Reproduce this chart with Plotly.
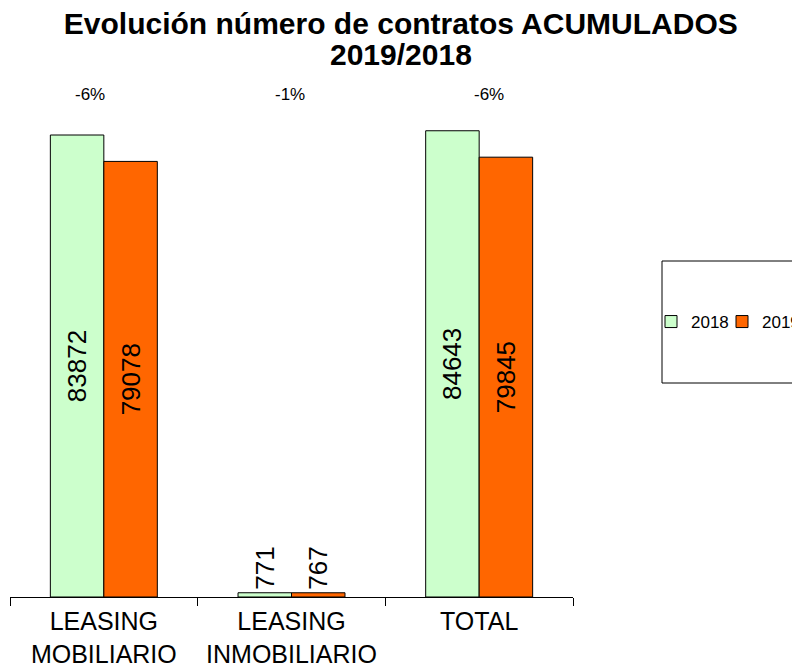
import plotly.graph_objects as go

categories = ["LEASING<br>MOBILIARIO", "LEASING<br>INMOBILIARIO", "TOTAL"]
values_2018 = [83872, 771, 84643]
values_2019 = [79078, 767, 79845]
pct_labels = ["-6%", "-1%", "-6%"]
pct_xshift = [-14, -2, 10]
title_lines = ["Evolución número de contratos ACUMULADOS", "2019/2018"]

FONT = "Liberation Sans, Arial, sans-serif"

L, R, T, B = 2, 235, 72, 77
PW, PH = 800 - L - R, 666 - T - B

fig = go.Figure()
fig.add_trace(go.Bar(
    name="2018", x=categories, y=values_2018, legend="legend",
    marker=dict(color="#CCFFCC", line=dict(color="#000000", width=1)),
    text=[str(v) for v in values_2018], textposition="auto", textangle=-90,
    insidetextanchor="middle",
    textfont=dict(family=FONT, size=26, color="#000000"),
    cliponaxis=False,
))
fig.add_trace(go.Bar(
    name="2019", x=categories, y=values_2019, legend="legend2",
    marker=dict(color="#FF6600", line=dict(color="#000000", width=1)),
    text=[str(v) for v in values_2019], textposition="auto", textangle=-90,
    insidetextanchor="middle",
    textfont=dict(family=FONT, size=26, color="#000000"),
    cliponaxis=False,
))

for cat, lab, dx in zip(categories, pct_labels, pct_xshift):
    fig.add_annotation(x=cat, y=(597 - 95) / PH, xref="x", yref="paper", text=lab,
                       showarrow=False, yanchor="middle", xshift=dx,
                       font=dict(family=FONT, size=17, color="#000000"))

# second title line
fig.add_annotation(x=(401 - 10) / PW, y=(597 - 55) / PH, xref="paper", yref="paper",
                   text="<b>" + title_lines[1] + "</b>", showarrow=False,
                   xanchor="center", yanchor="middle",
                   font=dict(family=FONT, size=30, color="#000000"))

fig.add_shape(type="rect", xref="paper", yref="paper",
              x0=(662 - 10) / PW, x1=(840 - 10) / PW,
              y0=(597 - 383) / PH, y1=(597 - 261) / PH,
              line=dict(color="#000000", width=1), fillcolor="rgba(0,0,0,0)")

legend_style = dict(orientation="h", y=(597 - 322) / PH, xanchor="left", yanchor="middle",
                    font=dict(family=FONT, size=17, color="#000000"),
                    bgcolor="rgba(0,0,0,0)", itemwidth=30)

fig.update_layout(
    width=800, height=666,
    margin=dict(l=L, r=R, t=T, b=B, autoexpand=False),
    paper_bgcolor="#FFFFFF", plot_bgcolor="#FFFFFF",
    barmode="group", bargap=0.43, bargroupgap=0,
    title=dict(text=title_lines[0],
               x=0.491, xanchor="center", y=1 - 15 / 666, yanchor="middle",
               font=dict(family=FONT, size=30, color="#000000", weight="bold")),
    font=dict(family=FONT, color="#000000"),
    showlegend=True,
    legend=dict(x=(651 - 10) / PW, **legend_style),
    legend2=dict(x=(722 - 10) / PW, **legend_style),
    xaxis=dict(showline=True, linecolor="#000000", linewidth=1,
               ticks="outside", tickson="boundaries", ticklen=8, tickcolor="#000000",
               tickfont=dict(family=FONT, size=25, color="#000000"),
               ticklabelstandoff=2,
               showgrid=False, zeroline=False),
    yaxis=dict(visible=False, range=[0, PH * 83872 / 462], showgrid=False, zeroline=False),
)

fig.write_html("out.html")
